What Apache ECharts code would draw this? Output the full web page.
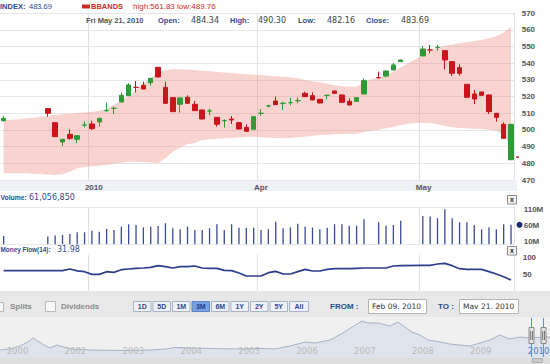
<!DOCTYPE html>
<html><head><meta charset="utf-8">
<script src="https://cdn.jsdelivr.net/npm/echarts/dist/echarts.min.js"></script>
<style>html,body{margin:0;padding:0;background:#fff;overflow:hidden}#c{width:550px;height:364px}</style>
</head><body><div id="c"></div>
<script>
const dates = ['2010-02-10','2010-02-11','2010-02-12','2010-02-16','2010-02-17','2010-02-18','2010-02-19','2010-02-22','2010-02-23','2010-02-24','2010-02-25','2010-02-26',
'2010-03-01','2010-03-02','2010-03-03','2010-03-04','2010-03-05','2010-03-08','2010-03-09','2010-03-10','2010-03-11','2010-03-12','2010-03-15','2010-03-16','2010-03-17','2010-03-18','2010-03-19','2010-03-22','2010-03-23','2010-03-24','2010-03-25','2010-03-26','2010-03-29','2010-03-30','2010-03-31',
'2010-04-01','2010-04-02','2010-04-05','2010-04-06','2010-04-07','2010-04-08','2010-04-09','2010-04-12','2010-04-13','2010-04-14','2010-04-15','2010-04-16','2010-04-19','2010-04-20','2010-04-21','2010-04-22','2010-04-23','2010-04-26','2010-04-27','2010-04-28','2010-04-29','2010-04-30',
'2010-05-03','2010-05-04','2010-05-05','2010-05-06','2010-05-07','2010-05-10','2010-05-11','2010-05-12','2010-05-13','2010-05-14','2010-05-17','2010-05-18','2010-05-19'];

const opens = [505.6,null,null,null,null,null,512.8,504.4,492.8,497.4,
494.4,503.0,503.6,504.8,511.6,513.0,516.8,520.6,525.6,526.8,
528.4,537.6,525.6,519.4,515.4,519.6,515.4,512.0,511.4,507.6,
505.6,506.6,504.4,501.6,500.4,510.0,514.4,517.4,516.0,516.4,
517.6,522.0,520.6,518.4,520.8,523.4,521.0,517.2,517.2,521.6,
null,531.4,532.4,536.0,541.0,null,null,544.4,548.0,549.6,
547.6,541.0,537.4,527.4,521.6,522.8,521.0,510.0,503.4,482.16];
const closes = [507.0,null,null,null,null,null,510.0,496.0,494.4,495.0,
496.6,503.0,500.8,507.0,511.6,513.0,520.8,527.0,525.6,524.6,
531.0,531.8,516.0,511.0,519.2,516.0,511.6,506.6,511.4,503.4,
505.6,506.0,500.6,499.2,508.0,510.0,514.4,515.2,516.0,516.4,
517.6,520.0,518.0,516.2,520.8,522.0,516.6,515.0,519.4,529.6,
null,531.4,535.4,539.0,542.0,null,null,548.6,548.0,549.6,
542.0,534.0,534.0,519.6,518.6,520.8,511.0,507.6,495.0,503.4];
const lows = [505.0,null,null,null,null,null,508.0,495.8,490.4,494.0,
492.0,501.6,500.0,502.0,511.0,509.6,516.5,520.4,522.6,524.4,
526.6,531.6,515.8,510.8,510.4,515.8,511.4,506.4,508.8,502.0,
501.4,503.6,500.4,499.0,500.2,508.4,513.6,515.0,512.0,514.8,
516.0,519.8,517.8,516.0,518.4,521.8,516.4,514.8,517.0,521.4,
null,531.0,531.6,535.8,540.8,null,null,544.2,546.0,547.6,
536.4,532.4,532.6,519.4,515.6,520.6,509.6,505.0,494.8,482.16];
const highs = [508.4,null,null,null,null,null,513.2,504.6,494.6,500.4,
496.8,505.0,505.6,507.2,516.4,514.0,522.4,528.0,529.4,529.0,
531.2,537.8,529.0,519.6,519.4,520.8,517.4,512.2,512.8,507.8,
506.4,508.4,504.6,503.4,508.2,512.6,515.2,520.0,517.0,519.2,
519.4,523.0,522.6,518.6,521.0,523.6,521.2,519.0,519.6,530.8,
null,535.0,535.6,540.0,542.2,null,null,550.4,551.0,551.0,
547.8,541.2,539.4,527.6,524.0,523.0,521.2,510.2,504.6,503.6];

const bbUpper = [506.0,506.2,506.5,507.0,507.4,508.0,508.4,509.0,509.4,509.8,
510.2,510.5,511.0,511.6,512.8,515.0,517.5,520.5,524.0,528.0,
531.0,534.5,536.0,536.4,536.4,536.2,536.0,535.6,535.2,534.8,
534.5,534.2,533.8,533.5,533.2,533.0,532.6,532.3,532.0,531.6,
531.0,530.0,529.2,528.6,527.8,526.8,526.2,526.0,526.0,528.5,
530.5,531.5,533.0,535.0,537.5,540.0,542.5,545.0,547.5,549.5,
550.5,551.3,552.0,552.8,553.4,554.2,555.0,556.2,558.5,561.83];
const bbLower = [474.0,474.0,474.0,474.0,473.8,473.6,473.3,473.0,473.5,475.0,
477.0,477.8,478.2,478.6,479.0,479.8,480.4,481.0,481.0,480.8,
480.5,480.0,483.0,487.0,489.5,491.4,492.2,494.0,494.4,494.8,
495.0,495.2,495.5,495.8,496.0,495.6,495.4,495.2,495.0,495.2,
495.6,496.0,496.5,497.0,497.2,497.4,497.6,497.7,497.8,498.8,
499.6,500.2,501.0,502.0,503.0,503.8,504.2,504.4,504.2,503.4,
502.4,501.6,501.2,501.0,500.8,500.6,500.2,499.5,497.0,489.76];

const volumes = [26,null,null,null,null,null,24,27,29,32,
37.5,37.5,42.6,39.5,48,45,55,63,60.5,53,
55,57.4,66,50,47,55,45,45,50,63,
45,63,52,52,52,45,48,71,50,53,
64,55,52,47,52,63,63,58,58,78.5,
null,69,58,60.5,74,null,null,89,87,82,
110,82,69,69,60.5,47,53,47,63,61.06];

const mfi = [60,null,null,null,null,null,60,60,60,65,
59.5,57,49,49,57,55,63,65,67,68,
70,75,72,68,72,72,74,68,67,67,
61,60,53,44,44,44,54,58,50,50,
57,64,59,59,64,66,66,66,67,68,
null,68,68,74,75,null,null,76,76,80,
82,75,66,64,64,64,57,50,42,31.98];

const xTickLabels = {'2010-03-01': '2010', '2010-04-01': 'Apr', '2010-05-03': 'May'};
const volTickLabels = [10, 60, 110];
const navYears = ['2000','2002','2003','2004','2005','2006','2007','2008','2009','2010'];
const navT = [1999.70,1999.87,2000.04,2000.18,2000.27,2000.35,2000.46,2000.56,2000.68,2000.79,2000.94,2001.25,2001.60,2001.94,2002.29,2002.55,2002.72,2002.98,2003.33,2003.84,2004.19,2004.45,2004.71,2004.97,2005.14,2005.40,2005.62,2005.78,2005.95,2006.05,2006.23,2006.43,2006.57,2006.69,2006.81,2006.95,2007.09,2007.30,2007.47,2007.64,2007.81,2007.99,2008.16,2008.33,2008.50,2008.68,2008.85,2009.11,2009.20];
const navV = [200,225,300,400,500,425,325,250,325,275,225,200,190,190,200,225,262,250,238,225,238,225,300,400,375,450,625,775,925,875,875,800,900,775,650,575,450,400,350,325,300,375,450,575,475,525,500,525,525];

const headerRow1 = {symbol: 'INDEX:', last: '483.69', bbName: 'BBANDS'};
const quote = {date: 'Fri May 21, 2010', open: '484.34', high: '490.30', low: '482.16', close: '483.69', volume: '61,056,850'};
const rangeButtons = ['1D','5D','1M','3M','6M','1Y','2Y','5Y','All'];
const selectedRange = '3M';
const fromDate = 'Feb 09. 2010', toDate = 'Mav 21. 2010';

const F = '"Liberation Sans", Arial, sans-serif';
const V = '"DejaVu Sans", Verdana, sans-serif';
const navy = '#34498f';
const red = '#d02a2a';

const chart = echarts.init(document.getElementById('c'), null, {renderer: 'svg', width: 550, height: 364});

const candleData = dates.map((d, i) => opens[i] == null ? ['-', '-', '-', '-'] : [opens[i], closes[i], lows[i], highs[i]]);
const bandWidth = bbUpper.map((u, i) => +(u - bbLower[i]).toFixed(2));
const isTick = (idx, val) => Object.prototype.hasOwnProperty.call(xTickLabels, val);
const vSplit = {show: true, interval: isTick, lineStyle: {color: '#dde0e6', width: 1}};

function catAxis(grid, withLabels) {
  return {
    type: 'category', gridIndex: grid, data: dates, boundaryGap: true,
    axisLine: {show: false}, axisTick: {show: false},
    axisLabel: withLabels ? {show: true, interval: isTick, formatter: v => xTickLabels[v] || '', align: 'left',
      margin: 3, fontSize: 8, fontWeight: 'bold', color: '#555', fontFamily: F, padding: [0, 0, 0, -7]} : {show: false},
    splitLine: vSplit
  };
}

const option = {
  animation: false,
  backgroundColor: '#ffffff',
  grid: [
    {left: 0, right: 35.3, top: 13.3, height: 166.7, outerBoundsMode: 'none'},
    {left: 0, right: 35.3, top: 207, height: 37.2, outerBoundsMode: 'none'},
    {left: 0, right: 35.3, top: 255, height: 35.7, outerBoundsMode: 'none'},
    {left: -11.45, width: 579, top: 318, height: 40, outerBoundsMode: 'none'}
  ],
  xAxis: [
    catAxis(0, true), catAxis(1, false), catAxis(2, false),
    {type: 'category', gridIndex: 3, data: navYears, boundaryGap: true, axisLine: {show: false}, axisTick: {show: false},
     splitLine: {show: false}, z: 10,
     axisLabel: {inside: true, interval: 0, hideOverlap: false, margin: 3, fontSize: 8.5, fontFamily: V,
       color: v => v === '2010' ? '#4a80c8' : '#b9b9b9'}},
    {type: 'value', gridIndex: 3, min: 1999.5, max: 2009.5, show: false}
  ],
  yAxis: [
    {type: 'value', gridIndex: 0, position: 'right', min: 470, max: 570, interval: 10,
     axisLine: {show: false}, axisTick: {show: false},
     axisLabel: {margin: 7, fontSize: 8, fontWeight: 'bold', color: '#555', fontFamily: F},
     splitLine: {show: true, lineStyle: {color: '#e6e6e6'}}},
    {type: 'value', gridIndex: 1, position: 'right', min: 0, max: 117, interval: 10,
     axisLine: {show: false}, axisTick: {show: false}, splitLine: {show: false},
     axisLabel: {margin: 9, fontSize: 8, fontWeight: 'bold', color: '#555', fontFamily: F,
       formatter: v => volTickLabels.indexOf(v) >= 0 ? v + 'M' : ''}},
    {type: 'value', gridIndex: 2, position: 'right', min: 0, max: 107, interval: 50,
     axisLine: {show: false}, axisTick: {show: false}, splitLine: {show: false},
     axisLabel: {margin: 8, fontSize: 8, fontWeight: 'bold', color: '#555', fontFamily: F, showMinLabel: false, showMaxLabel: false}},
    {type: 'value', gridIndex: 3, min: 0, max: 1000, show: false}
  ],
  series: [
    {type: 'line', name: 'bbLower', xAxisIndex: 0, yAxisIndex: 0, data: bbLower, stack: 'bb', symbol: 'none', silent: true,
     lineStyle: {opacity: 0}, z: 1},
    {type: 'line', name: 'bbBand', xAxisIndex: 0, yAxisIndex: 0, data: bandWidth, stack: 'bb', symbol: 'none', silent: true,
     lineStyle: {opacity: 0}, areaStyle: {color: 'rgba(240,140,130,0.38)', opacity: 1}, z: 1},
    {type: 'candlestick', xAxisIndex: 0, yAxisIndex: 0, data: candleData, barWidth: 5, z: 3,
     itemStyle: {color: '#2f9a36', color0: '#c8161d', borderColor: '#2f9a36', borderColor0: '#c8161d', borderWidth: 1}},
    {type: 'bar', xAxisIndex: 1, yAxisIndex: 1, data: volumes.map(v => v == null ? '-' : v), barWidth: 1.3,
     itemStyle: {color: '#3b4996'}},
    {type: 'line', xAxisIndex: 2, yAxisIndex: 2, data: mfi.map(v => v == null ? '-' : v), connectNulls: true, symbol: 'none',
     lineStyle: {color: '#2e3c8c', width: 1.7}},
    {type: 'line', xAxisIndex: 4, yAxisIndex: 3, data: navT.map((t, i) => [t, navV[i]]), symbol: 'none', silent: true,
     lineStyle: {color: '#a3b1c7', width: 1}, areaStyle: {color: '#dce2eb', opacity: 0.85}, z: 2}
  ]
};
chart.setOption(option);

function T(x, y, text, font, fill, align) {
  return {type: 'text', x: x, y: y, z: 60,
    style: {text: text, font: font, fill: fill, align: align || 'left', verticalAlign: 'middle',
            textAlign: align || 'left', textVerticalAlign: 'middle'}};
}
function R(x, y, w, h, fill, stroke, z) {
  return {type: 'rect', z: z == null ? 55 : z, shape: {x: x, y: y, width: w, height: h},
    style: {fill: fill, stroke: stroke || 'none', lineWidth: 1}};
}
function L(x1, y1, x2, y2, stroke, z) {
  return {type: 'line', z: z == null ? 55 : z, shape: {x1: x1, y1: y1, x2: x2, y2: y2}, style: {stroke: stroke, lineWidth: 1}};
}

const g = [];
// header row 1
g.push(T(0, 6.5, headerRow1.symbol, 'bold 7.5px ' + F, navy));
g.push(T(29, 6.5, headerRow1.last, '7.5px ' + F, navy));
g.push(R(82, 4.5, 8, 4, red));
g.push(T(91, 6.5, headerRow1.bbName, 'bold 7.5px ' + F, red));
g.push(T(133, 6.5, 'high:' + bbUpper[bbUpper.length - 1].toFixed(2) + ' low:' + bbLower[bbLower.length - 1].toFixed(2), '8px ' + F, red));
// header row 2
g.push(T(86, 20, quote.date, 'bold 7.5px ' + F, '#555'));
g.push(T(158, 20, 'Open:', 'bold 7.5px ' + F, navy));
g.push(T(191, 20, quote.open, '8px ' + V, '#444'));
g.push(T(230, 20, 'High:', 'bold 7.5px ' + F, navy));
g.push(T(258, 20, quote.high, '8px ' + V, '#444'));
g.push(T(298, 20, 'Low:', 'bold 7.5px ' + F, navy));
g.push(T(327, 20, quote.low, '8px ' + V, '#444'));
g.push(T(366, 20, 'Close:', 'bold 7.5px ' + F, navy));
g.push(T(401, 20, quote.close, '8px ' + V, '#444'));
// x axis band
g.push(R(0, 180.5, 517, 10.5, '#eef1f6', null, -1));
// volume header
g.push(T(0.5, 197.5, 'Volume:', 'bold 6.8px ' + F, navy));
g.push(T(29, 197.5, quote.volume, '8px ' + V, navy));
g.push(R(507.5, 195.5, 9, 8.5, '#f5f5f5', '#8a8a8a'));
g.push(T(512, 199.6, 'x', 'bold 7px ' + F, '#222', 'center'));
g.push(L(0, 207.5, 515, 207.5, '#e8e8e8', -1));
// mfi header
g.push(T(0.5, 249.5, 'Money Flow(14):', 'bold 6.4px ' + F, navy));
g.push(T(57, 249.5, mfi[mfi.length - 1].toFixed(2), '8px ' + V, navy));
g.push(R(507.5, 246.5, 9, 8.5, '#f5f5f5', '#8a8a8a'));
g.push(T(512, 250.6, 'x', 'bold 7px ' + F, '#222', 'center'));
g.push(L(0, 244.5, 515, 244.5, '#e8e8e8', -1));
// bottom area
g.push(R(0, 291, 550, 73, '#e8e8e8', null, -2));
g.push(R(0, 317, 550, 41, '#f0f0f0', null, -1));
g.push(R(0, 358, 550, 6, '#dedede', null, -1));
g.push(R(-6.5, 302.5, 10, 9, '#f7f7f7', '#b8b8b8'));
g.push(T(10, 306.5, 'Splits', 'bold 8px ' + F, '#8c8c8c'));
g.push(R(45.5, 301.5, 10, 10, '#f7f7f7', '#b8b8b8'));
g.push(T(61, 306.5, 'Dividends', 'bold 8px ' + F, '#8c8c8c'));
rangeButtons.forEach((b, i) => {
  const x = 133.5 + i * 19.5;
  const w = b === 'All' ? 19 : 17.5;
  const sel = b === selectedRange;
  g.push(R(x, 301.5, w, 10, sel ? '#78a2e2' : '#eef1f7', sel ? '#5f84c4' : '#a9b3c6'));
  g.push(T(x + w / 2, 306.8, b, 'bold 7px ' + F, sel ? '#1f3f8f' : '#2f4a8e', 'center'));
});
g.push(T(330, 306.5, 'FROM :', 'bold 8px ' + F, '#2f4a8e'));
g.push(R(368.5, 299.5, 58, 14, '#ffffff', '#b5b5b5'));
g.push(T(372, 306.8, fromDate, '7.5px ' + V, '#333'));
g.push(T(438, 306.5, 'TO :', 'bold 8px ' + F, '#2f4a8e'));
g.push(R(459.5, 299.5, 59, 14, '#ffffff', '#b5b5b5'));
g.push(T(463, 306.8, toDate, '7.5px ' + V, '#333'));
// navigator handles
[531.5, 543.5].forEach(x => {
  g.push(L(x, 318, x, 357, '#5a8fd8'));
  g.push(R(x - 2.5, 327.5, 5, 16, '#e2e2e2', '#8a8a8a'));
  g.push(L(x - 0.8, 331, x - 0.8, 340, '#777'));
  g.push(L(x + 1, 331, x + 1, 340, '#777'));
});
g.push(R(532.5, 358.5, 10, 4, '#cbcbcb', '#b0b0b0'));

// markers on the axes derived from the last values
const lastClose = Number(quote.close);
const yClose = chart.convertToPixel({yAxisIndex: 0}, lastClose);
g.push(R(516, yClose - 0.75, 3, 1.5, '#d02a2a'));
const yVol = chart.convertToPixel({yAxisIndex: 1}, volumes[volumes.length - 1]);
g.push({type: 'circle', z: 60, shape: {cx: 519.5, cy: yVol, r: 3}, style: {fill: '#1b2a6b'}});

chart.setOption({graphic: g});
</script>
</body></html>
